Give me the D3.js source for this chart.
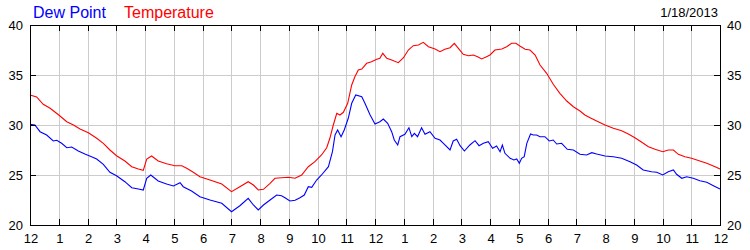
<!DOCTYPE html>
<html>
<head>
<meta charset="utf-8">
<script src="https://cdn.jsdelivr.net/npm/d3@7"></script>
<style>
  html, body { margin: 0; padding: 0; background: #fff; }
  svg { display: block; font-family: "Liberation Sans", Arial, sans-serif; }
</style>
</head>
<body>
<svg id="chart" width="750" height="250"></svg>
<script>
const dateLabel = "1/18/2013";
const seriesNames = ["Dew Point", "Temperature"];
const xTickLabels = ["12","1","2","3","4","5","6","7","8","9","10","11","12","1","2","3","4","5","6","7","8","9","10","11","12"];
const yTicks = [20, 25, 30, 35, 40];

const tempHours = [0,0.23,0.46,0.70,1.0,1.28,1.51,1.74,2.03,2.32,2.55,2.78,3.01,3.30,3.54,3.77,3.94,4.06,4.23,4.46,4.75,5.04,5.28,5.45,5.68,5.91,6.26,6.67,7.01,7.30,7.59,7.77,7.94,
  8.12,8.35,8.52,8.75,8.99,9.22,9.45,9.68,9.91,10.14,10.32,10.43,10.55,10.67,10.78,10.90,11.05,11.19,11.30,11.42,11.54,11.71,11.88,12.06,12.17,12.27,12.41,12.58,12.81,12.99,13.16,13.33,13.51,13.68,13.86,14.09,14.26,14.43,14.61,14.76,14.90,15.07,15.25,15.42,15.57,15.71,15.88,
  16.0,16.17,16.41,16.58,16.75,16.90,17.04,17.22,17.39,17.57,17.74,17.97,18.20,18.43,18.67,18.90,19.13,19.30,19.48,19.71,20.0,20.29,20.58,20.81,21.04,21.28,21.51,21.74,22.01,22.20,22.38,22.55,22.78,23.01,23.30,23.54,23.83,24.0];
const tempValues = [33.0,32.8,32.07,31.67,31.0,30.33,30.0,29.6,29.23,28.67,28.17,27.5,26.93,26.4,25.83,25.6,25.47,26.6,26.9,26.4,26.13,25.93,25.93,25.67,25.27,24.83,24.5,24.1,23.33,23.83,24.33,24.0,23.5,
  23.57,24.17,24.67,24.73,24.77,24.67,25.0,25.83,26.33,27.0,27.73,28.67,30.0,31.17,31.0,31.27,32.17,34.0,34.83,35.5,35.6,36.17,36.33,36.57,36.67,37.17,36.67,36.5,36.23,36.73,37.5,37.93,38.0,38.27,37.83,37.6,37.33,37.57,37.73,38.17,37.67,37.07,36.93,37.0,36.83,36.6,36.83,
  37.0,37.5,37.6,37.83,38.17,38.17,37.9,37.57,37.5,37.0,36.0,35.17,34.07,33.17,32.4,31.83,31.4,31.0,30.73,30.4,30.0,29.67,29.43,29.1,28.73,28.27,27.83,27.57,27.33,27.5,27.5,27.07,26.83,26.67,26.4,26.17,25.83,25.6];

const dewHours = [0,0.17,0.35,0.58,0.81,0.93,1.10,1.28,1.45,1.68,1.91,2.14,2.32,2.55,2.78,3.01,3.30,3.54,3.77,3.94,4.06,4.20,4.46,4.75,4.99,5.22,5.33,5.62,5.91,6.26,6.67,7.01,7.30,7.59,7.77,7.94,
  8.12,8.35,8.58,8.75,8.87,9.04,9.22,9.39,9.54,9.68,9.80,9.97,10.14,10.38,10.52,10.61,10.70,10.82,10.93,11.07,11.19,11.33,11.54,11.65,11.83,12.0,12.17,12.29,12.44,12.58,12.67,12.79,12.87,13.04,13.18,13.28,13.37,13.48,13.62,13.74,13.91,14.09,14.26,14.38,14.61,14.72,14.84,14.96,15.11,15.30,15.48,15.62,15.77,15.94,
  16.09,16.23,16.35,16.43,16.52,16.70,16.83,16.93,17.02,17.10,17.19,17.28,17.41,17.51,17.62,17.74,17.91,18.06,18.20,18.32,18.49,18.69,18.90,19.13,19.36,19.54,19.71,20.0,20.29,20.58,20.87,21.10,21.33,21.62,21.80,22.01,22.20,22.38,22.49,22.67,22.84,23.07,23.30,23.54,23.77,24.0];
const dewValues = [30.07,30.0,29.33,29.0,28.4,28.47,28.17,27.73,27.8,27.4,27.1,26.83,26.6,26.07,25.27,24.93,24.33,23.73,23.6,23.5,24.67,25.0,24.4,24.1,23.9,24.23,23.83,23.4,22.83,22.5,22.17,21.33,21.93,22.67,22.0,21.5,
  22.0,22.5,23.0,22.93,22.73,22.4,22.47,22.73,23.0,23.83,23.77,24.5,25.0,25.83,27.33,29.0,29.5,28.83,29.5,30.67,32.17,33.0,32.83,32.17,31.0,30.1,30.33,30.6,30.17,29.33,28.5,28.0,28.83,29.07,29.73,28.83,29.17,28.83,29.73,29.07,29.33,28.67,28.5,28.17,27.5,28.4,28.57,27.93,27.4,28.0,28.43,27.93,28.17,28.33,
  27.67,27.9,27.33,28.0,27.17,26.67,26.5,26.6,26.17,26.67,26.83,28.17,29.1,29.0,29.0,28.83,28.83,28.4,28.5,28.1,28.17,27.57,27.5,27.07,27.0,27.23,27.1,26.9,26.83,26.67,26.33,26.0,25.5,25.33,25.27,25.0,25.33,25.5,25.07,24.67,24.83,24.67,24.43,24.27,23.93,23.6];

const W = 750, H = 250;
const m = { left: 30, right: 30, top: 25, bottom: 25 };
const svg = d3.select("#chart");

const x = d3.scaleLinear().domain([0, 24]).range([m.left, W - m.right]);
const y = d3.scaleLinear().domain([20, 40]).range([H - m.bottom, m.top]);
const hourIdx = d3.range(xTickLabels.length);

// grid
const grid = svg.append("g").attr("stroke", "#cccccc").attr("stroke-width", 1).attr("shape-rendering", "crispEdges");
grid.selectAll(".gx").data(hourIdx.slice(1, -1)).join("line")
  .attr("x1", d => Math.round(x(d)) + 0.5).attr("x2", d => Math.round(x(d)) + 0.5)
  .attr("y1", y(40)).attr("y2", y(20));
grid.selectAll(".gy").data(yTicks.slice(1, -1)).join("line")
  .attr("x1", x(0)).attr("x2", x(24))
  .attr("y1", d => Math.round(y(d)) + 0.5).attr("y2", d => Math.round(y(d)) + 0.5);

// series
const line = (hs, vs) => d3.line().x((d, i) => x(hs[i])).y(d => y(d))(vs);
svg.append("path").attr("d", line(tempHours, tempValues)).attr("fill", "none").attr("stroke", "#ff0000").attr("stroke-width", 1.1);
svg.append("path").attr("d", line(dewHours, dewValues)).attr("fill", "none").attr("stroke", "#0000ff").attr("stroke-width", 1.1);

// frame and ticks
const fr = svg.append("g").attr("stroke", "#000").attr("stroke-width", 1).attr("shape-rendering", "crispEdges").attr("fill", "none");
fr.append("rect").attr("x", x(0) + 0.5).attr("y", y(40) + 0.5).attr("width", x(24) - x(0)).attr("height", y(20) - y(40));
fr.selectAll(".tt").data(hourIdx.slice(1, -1)).join("line")
  .attr("x1", d => Math.round(x(d)) + 0.5).attr("x2", d => Math.round(x(d)) + 0.5)
  .attr("y1", y(40)).attr("y2", y(40) + 6);
fr.selectAll(".tb").data(hourIdx.slice(1, -1)).join("line")
  .attr("x1", d => Math.round(x(d)) + 0.5).attr("x2", d => Math.round(x(d)) + 0.5)
  .attr("y1", y(20)).attr("y2", y(20) - 6);
fr.selectAll(".tl").data(yTicks.slice(1, -1)).join("line")
  .attr("x1", x(0)).attr("x2", x(0) + 6)
  .attr("y1", d => Math.round(y(d)) + 0.5).attr("y2", d => Math.round(y(d)) + 0.5);
fr.selectAll(".tr").data(yTicks.slice(1, -1)).join("line")
  .attr("x1", x(24)).attr("x2", x(24) - 6)
  .attr("y1", d => Math.round(y(d)) + 0.5).attr("y2", d => Math.round(y(d)) + 0.5);

// labels
const lab = svg.append("g").attr("font-size", 13).attr("fill", "#000");
lab.selectAll(".yl").data(yTicks).join("text")
  .attr("x", x(0) - 7).attr("y", d => y(d) + 4.5).attr("text-anchor", "end").text(d => d);
lab.selectAll(".yr").data(yTicks).join("text")
  .attr("x", x(24) + 7).attr("y", d => y(d) + 4.5).attr("text-anchor", "start").text(d => d);
lab.selectAll(".xl").data(hourIdx).join("text")
  .attr("x", d => x(d) + 1).attr("y", 243).attr("text-anchor", "middle").text(d => xTickLabels[d]);
lab.append("text").attr("x", 718).attr("y", 17).attr("text-anchor", "end").text(dateLabel);

svg.append("text").attr("x", 33).attr("y", 18).attr("font-size", 16).attr("fill", "#0000ff").text(seriesNames[0]);
svg.append("text").attr("x", 124).attr("y", 18).attr("font-size", 16).attr("fill", "#ff0000").text(seriesNames[1]);
</script>
</body>
</html>
